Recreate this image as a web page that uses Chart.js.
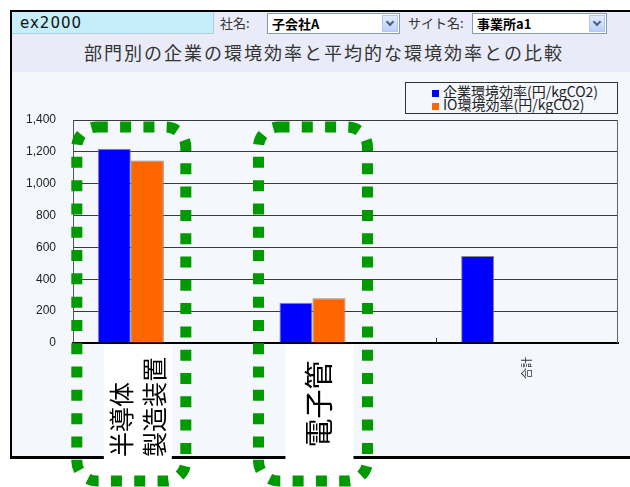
<!DOCTYPE html>
<html>
<head>
<meta charset="utf-8">
<script src="https://cdn.jsdelivr.net/npm/chart.js@4.4.0/dist/chart.umd.min.js"></script>
<style>
  body { margin: 0; width: 630px; height: 487px; background: #fff; position: relative; overflow: hidden;
         font-family: "Noto Sans CJK JP", sans-serif; }
  #frame { position: absolute; left: 10px; top: 10px; width: 620px; height: 444px;
           border-top: 2px solid #000; border-left: 2px solid #000; border-bottom: 3px solid #000; background: #f4f7fc; }
  #head { position: absolute; left: 12px; top: 12px; width: 618px; height: 60px; background: #e9ecf8; }
  #book { position: absolute; left: 12px; top: 12px; width: 202px; height: 22px; background: #c6edfa;
          border-right: 1px solid #a9cfe0; border-bottom: 1px solid #a9cfe0;
          font: 15px "DejaVu Sans", sans-serif; letter-spacing: 1px; color: #111; line-height: 22px; padding-left: 8px; box-sizing: border-box; }
  .lbl { position: absolute; top: 12px; font-size: 13px; color: #333; line-height: 22px; }
  .sel { position: absolute; top: 13px; height: 21px; background: #fff; border: 1px solid #7f9db9; box-sizing: border-box;
         font-size: 13px; font-weight: bold; color: #000; line-height: 19px; padding-left: 4px; }
  .sel .arr { position: absolute; right: 1px; top: 1px; width: 16px; height: 17px; box-sizing: border-box;
              background: linear-gradient(#e2ebfd, #bccff5); border: 1px solid #b2c6ee; }
  .sel .arr:after { content: ""; position: absolute; left: 4px; top: 3px; width: 4px; height: 4px;
                    border-right: 2px solid #4d6185; border-bottom: 2px solid #4d6185; transform: rotate(45deg); }
  #title { position: absolute; left: 12px; top: 38px; width: 618px; text-align: center; padding-left: 6px; box-sizing: border-box;
           font-size: 18px; letter-spacing: 2px; color: #333; line-height: 28px; }
  #legend { position: absolute; left: 405px; top: 82px; width: 213px; height: 32px; border: 1px solid #333; box-sizing: border-box;
            padding: 2px 0 0 26px; font-size: 14px; color: #222; line-height: 13px; white-space: nowrap; }
  #legend span.box { display: inline-block; width: 7px; height: 7px; margin-right: 4px; vertical-align: 0px; }
  #c { position: absolute; left: 0; top: 0; }
</style>
</head>
<body>
<div id="frame"></div>
<div id="head"></div>
<div id="book">ex2000</div>
<div class="lbl" style="left:220px">社名:</div>
<div class="sel" style="left:267px;width:133px">子会社A<div class="arr"></div></div>
<div class="lbl" style="left:408px">サイト名:</div>
<div class="sel" style="left:472px;width:135px">事業所a1<div class="arr"></div></div>
<div id="title">部門別の企業の環境効率と平均的な環境効率との比較</div>
<div id="legend"></div>
<canvas id="c" width="630" height="487"></canvas>
<script>
var categories = ['半導体製造装置', '電子管', '合計'];
var companyEff = [1220, 252, 546];
var ioEff = [1145, 281, null];
var seriesNames = ['企業環境効率(円/kgCO2)', 'IO環境効率(円/kgCO2)'];
var seriesColors = ['#0000ff', '#ff6600'];
var yMax = 1400;
var yStep = 200;
// big labels drawn over the first two categories
var callouts = [['半導体', '製造装置'], ['電子管'], null];

// html legend from the series
var legend = document.getElementById('legend');
seriesNames.forEach(function(name, i) {
  var row = document.createElement('div');
  row.innerHTML = '<span class="box" style="background:' + seriesColors[i] + '"></span>' + name;
  legend.appendChild(row);
});

var calloutPlugin = {
  id: 'callout',
  afterDraw: function(chart) {
    var ctx = chart.ctx;
    var area = chart.chartArea;
    var y = chart.scales.y;
    var m0 = chart.getDatasetMeta(0);
    var m1 = chart.getDatasetMeta(1);
    ctx.save();
    // right edge of plot
    ctx.strokeStyle = '#666';
    ctx.lineWidth = 1;
    ctx.beginPath();
    ctx.moveTo(area.right - 0.5, area.top);
    ctx.lineTo(area.right - 0.5, area.bottom);
    ctx.stroke();
    // small tick between the 2nd and 3rd category
    var xs = chart.scales.x;
    var bx2 = (xs.getPixelForValue(1) + xs.getPixelForValue(2)) / 2;
    ctx.strokeStyle = '#333';
    ctx.beginPath();
    ctx.moveTo(Math.round(bx2) + 0.5, area.bottom - 5);
    ctx.lineTo(Math.round(bx2) + 0.5, area.bottom);
    ctx.stroke();

    callouts.forEach(function(lines, i) {
      if (!lines) return;
      var cx = (m0.data[i].x + m1.data[i].x) / 2;
      var bx = cx + 7;
      ctx.setLineDash([]);
      ctx.fillStyle = '#fff';
      ctx.fillRect(bx - 34, area.bottom + 2, 68, 116);

      ctx.fillStyle = '#000';
      ctx.textBaseline = 'middle';
      var multi = lines.length > 1;
      ctx.font = (multi ? 25 : 29) + 'px "Noto Sans CJK JP"';
      lines.forEach(function(t, k) {
        var colX = bx + (k - (lines.length - 1) / 2) * 33;
        ctx.save();
        if (multi) {
          ctx.translate(colX, area.bottom + 114);
          ctx.textAlign = 'left';
        } else {
          ctx.translate(colX, area.bottom + 61);
          ctx.textAlign = 'center';
        }
        ctx.rotate(-Math.PI / 2);
        ctx.fillText(t, 0, 0);
        ctx.restore();
      });

      ctx.strokeStyle = '#009900';
      ctx.lineWidth = 11;
      ctx.setLineDash([11, 12.3]);
      ctx.beginPath();
      var top = y.getPixelForValue(yMax) + 7;
      ctx.roundRect(cx - 54, top, 109, 481 - top, 20);
      ctx.stroke();
    });
    ctx.restore();
  }
};

var ctx = document.getElementById('c').getContext('2d');
var myChart = new Chart(ctx, {
  type: 'bar',
  data: {
    labels: categories,
    datasets: [
      { label: seriesNames[0], data: companyEff, backgroundColor: seriesColors[0], borderColor: '#888', borderWidth: 1 },
      { label: seriesNames[1], data: ioEff, backgroundColor: seriesColors[1], borderColor: '#888', borderWidth: 1 },
      // two empty series slots, the original chart reserves room for them
      { label: '', data: [null, null, null] },
      { label: '', data: [null, null, null] }
    ]
  },
  options: {
    responsive: false,
    animation: false,
    events: [],
    layout: { padding: { left: 0, top: 120, right: 12, bottom: 0 } },
    datasets: { bar: { categoryPercentage: 0.727, barPercentage: 1 } },
    plugins: { legend: { display: false }, tooltip: { enabled: false } },
    scales: {
      x: {
        grid: { display: false },
        border: { display: true, color: '#000', width: 2 },
        ticks: {
          autoSkip: false, minRotation: 90, maxRotation: 90, padding: 6,
          color: '#333', font: { family: '"Noto Sans CJK JP"', size: 11 }
        },
        afterFit: function(scale) { scale.height = 144; }
      },
      y: {
        min: 0, max: yMax,
        grid: { color: '#3a3a3a', drawTicks: false },
        border: { color: '#555' },
        ticks: {
          stepSize: yStep, padding: 17, color: '#222',
          font: { family: '"Liberation Sans"', size: 12 },
          callback: function(v) { return v.toLocaleString('en-US'); }
        },
        afterFit: function(scale) { scale.width = 73; }
      }
    }
  },
  plugins: [calloutPlugin]
});
</script>
</body>
</html>
